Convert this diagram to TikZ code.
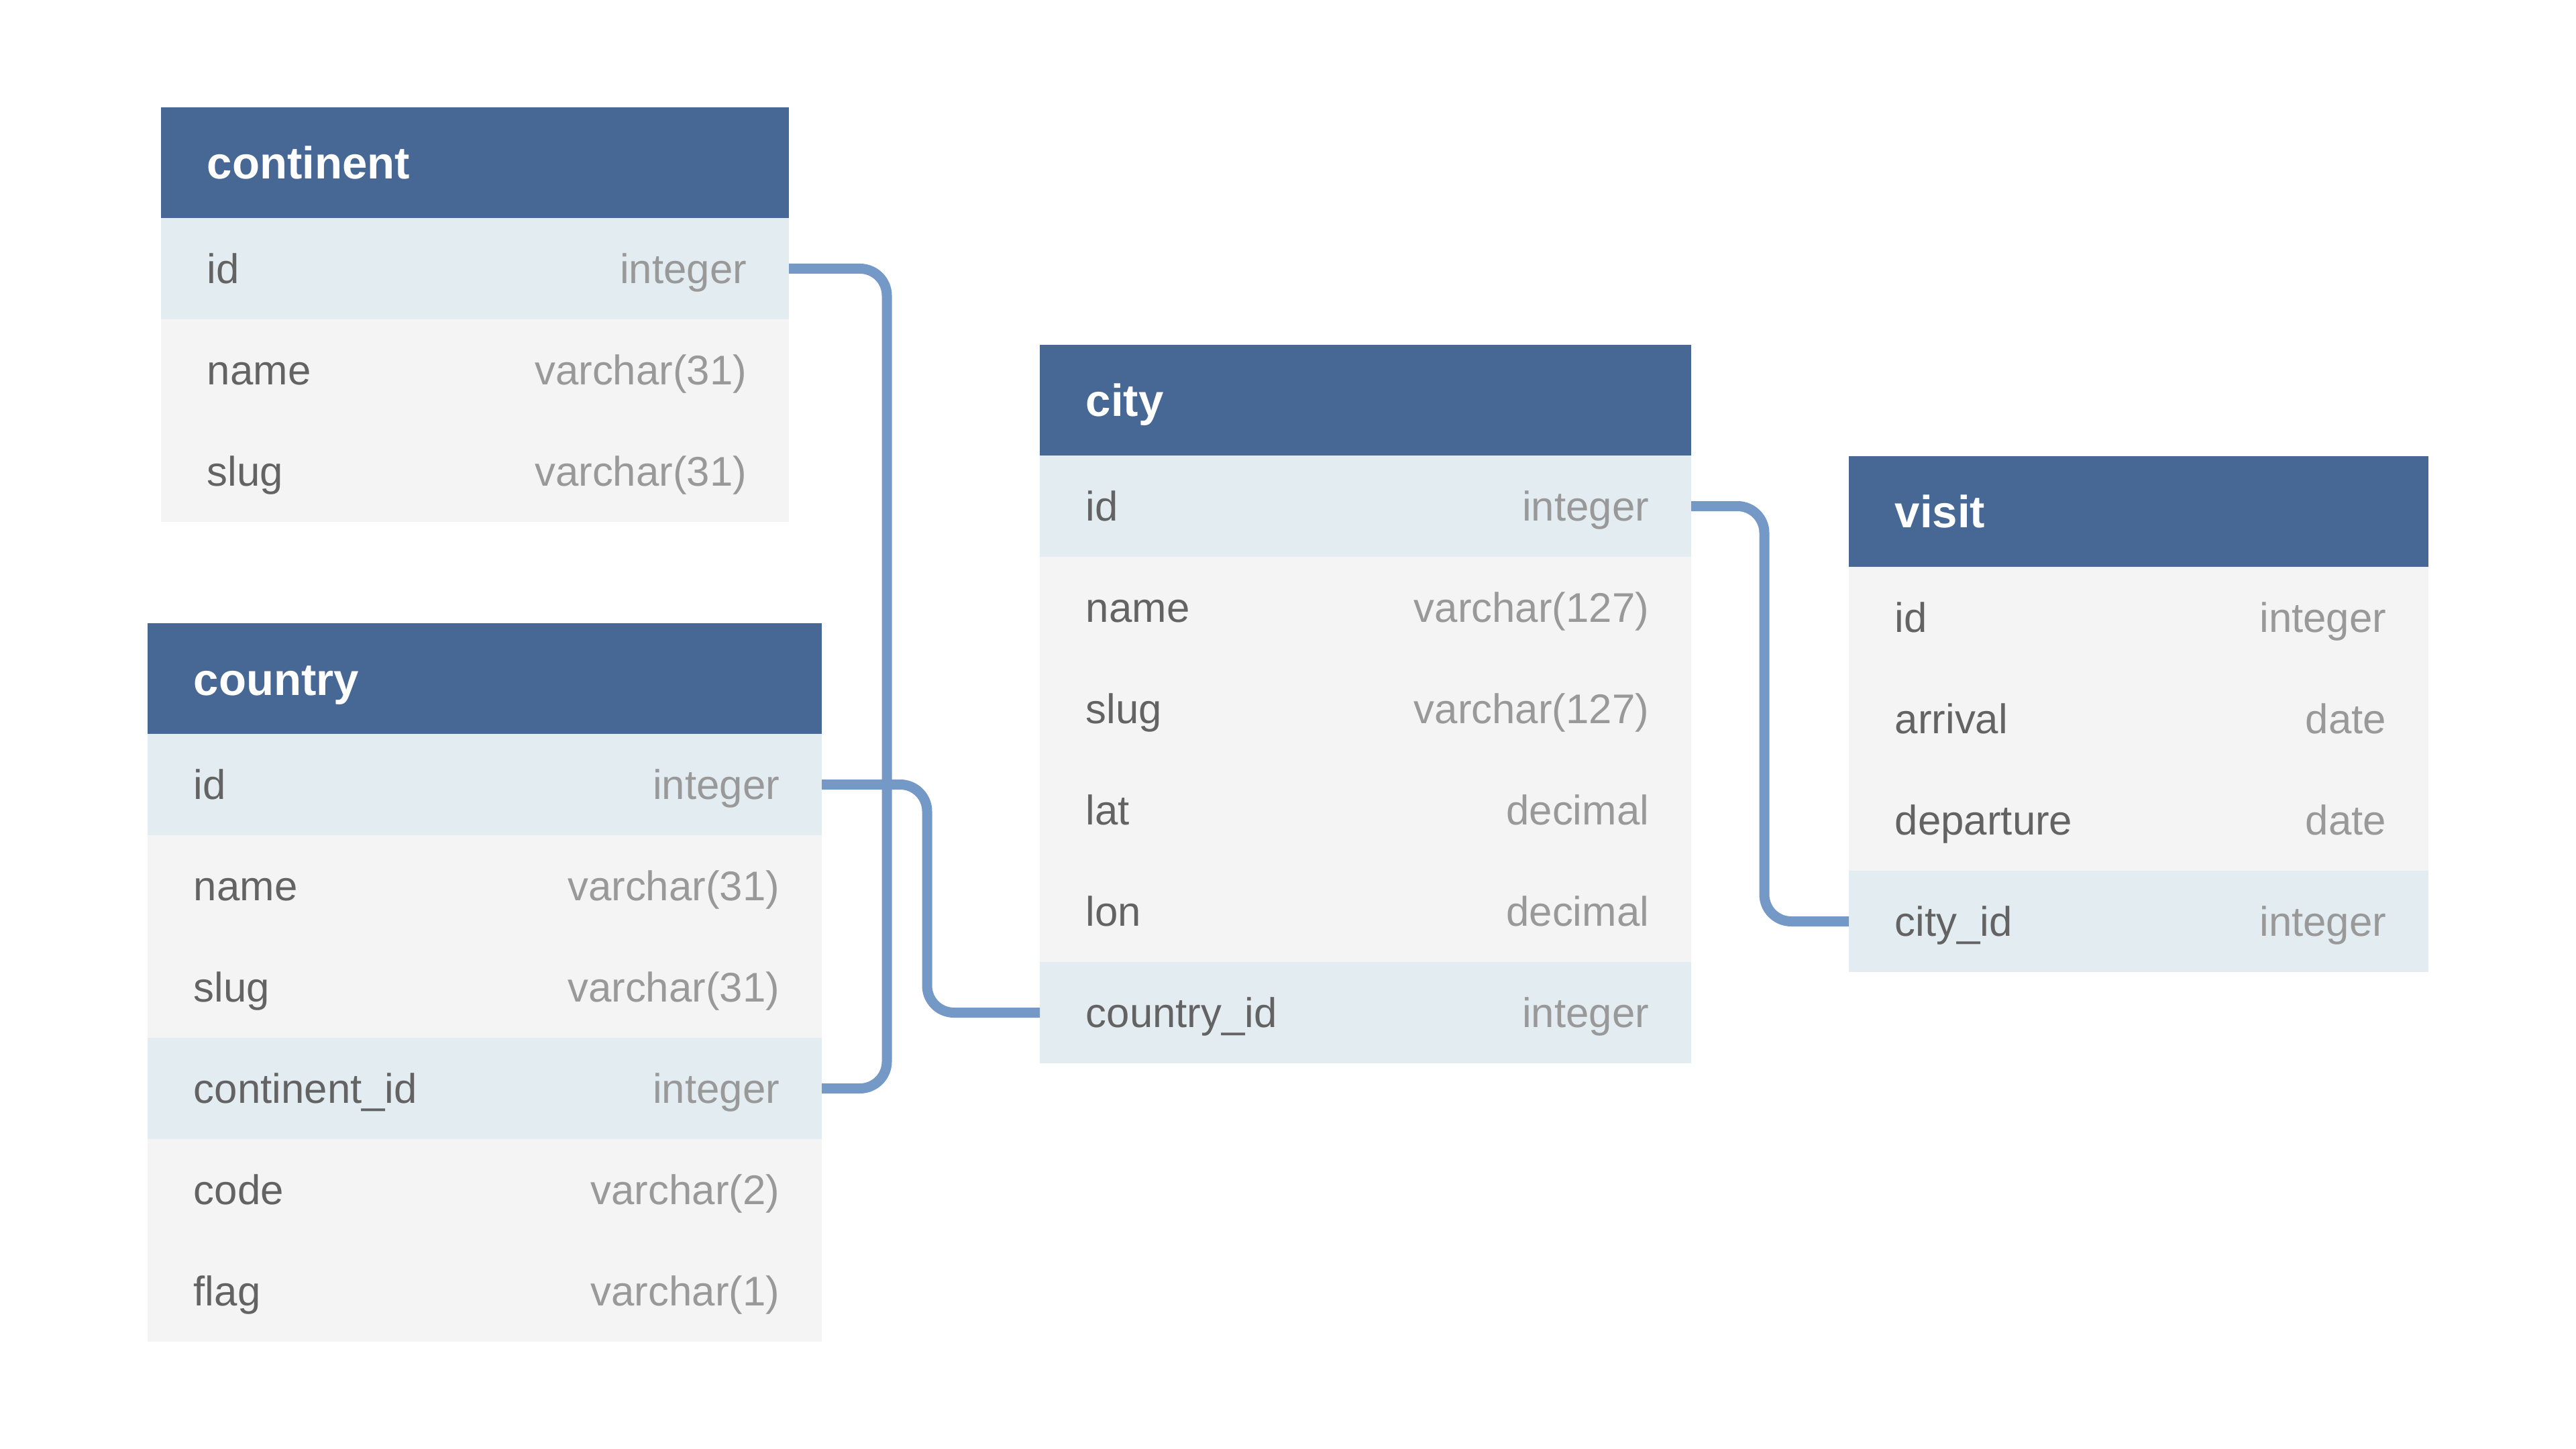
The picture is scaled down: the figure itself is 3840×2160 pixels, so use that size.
\documentclass[tikz,border=0pt]{standalone}
\usepackage{fontspec}
\setmainfont{Liberation Sans}
\usetikzlibrary{calc}
\definecolor{hdrblue}{HTML}{476894}
\definecolor{rowhl}{HTML}{E3ECF1}
\definecolor{rowpl}{HTML}{F4F4F4}
\definecolor{fieldgray}{HTML}{636363}
\definecolor{typegray}{HTML}{999999}
\definecolor{connblue}{HTML}{7499C7}
\tikzset{
  hdrbox/.style={fill=hdrblue, draw=none, inner sep=0pt, outer sep=0pt, minimum height=41.25pt},
  rowbox/.style={draw=none, inner sep=0pt, outer sep=0pt, minimum height=37.75pt},
  hdrtxt/.style={text=white, font=\bfseries\fontsize{16.8pt}{20pt}\selectfont, inner sep=0pt},
  fieldtxt/.style={text=fieldgray, font=\fontsize{15.45pt}{18pt}\selectfont, inner sep=0pt},
  typetxt/.style={text=typegray, font=\fontsize{15.45pt}{18pt}\selectfont, inner sep=0pt},
  conn/.style={draw=connblue, line width=3.75pt, rounded corners=10pt}
}
\newcommand\tblhead[5]{%
  \node[hdrbox, minimum width=#4*0.25pt, anchor=north west] (#1) at (#2,#3) {};
  \node[hdrtxt, anchor=base west] (#1-title) at ($(#1.north west)+(68,107)$) {#5};
}
\newcommand\tblrow[7]{%
  \node[rowbox, fill=#5, minimum width=#4*0.25pt, anchor=north west] (#1) at (#2,#3) {};
  \node[fieldtxt, anchor=base west] (#1-f) at ($(#1.west)+(68,22)$) {#6};
  \node[typetxt, anchor=base east] (#1-t) at ($(#1.east)+(-62,22)$) {#7};
}
\begin{document}
\begin{tikzpicture}[x=0.25pt, y=-0.25pt]
\useasboundingbox[fill=white] (0,0) rectangle (3840,2160);

% continent
\tblhead{cont}{240}{160}{936}{continent}
\tblrow{cont-id}{240}{325}{936}{rowhl}{id}{integer}
\tblrow{cont-name}{240}{476}{936}{rowpl}{name}{varchar(31)}
\tblrow{cont-slug}{240}{627}{936}{rowpl}{slug}{varchar(31)}

% country
\tblhead{ctry}{220}{929}{1005}{country}
\tblrow{ctry-id}{220}{1094}{1005}{rowhl}{id}{integer}
\tblrow{ctry-name}{220}{1245}{1005}{rowpl}{name}{varchar(31)}
\tblrow{ctry-slug}{220}{1396}{1005}{rowpl}{slug}{varchar(31)}
\tblrow{ctry-contid}{220}{1547}{1005}{rowhl}{continent\_id}{integer}
\tblrow{ctry-code}{220}{1698}{1005}{rowpl}{code}{varchar(2)}
\tblrow{ctry-flag}{220}{1849}{1005}{rowpl}{flag}{varchar(1)}

% city
\tblhead{city}{1550}{514}{971}{city}
\tblrow{city-id}{1550}{679}{971}{rowhl}{id}{integer}
\tblrow{city-name}{1550}{830}{971}{rowpl}{name}{varchar(127)}
\tblrow{city-slug}{1550}{981}{971}{rowpl}{slug}{varchar(127)}
\tblrow{city-lat}{1550}{1132}{971}{rowpl}{lat}{decimal}
\tblrow{city-lon}{1550}{1283}{971}{rowpl}{lon}{decimal}
\tblrow{city-ctryid}{1550}{1434}{971}{rowhl}{country\_id}{integer}

% visit
\tblhead{visit}{2756}{680}{864}{visit}
\tblrow{visit-id}{2756}{845}{864}{rowpl}{id}{integer}
\tblrow{visit-arr}{2756}{996}{864}{rowpl}{arrival}{date}
\tblrow{visit-dep}{2756}{1147}{864}{rowpl}{departure}{date}
\tblrow{visit-cityid}{2756}{1298}{864}{rowhl}{city\_id}{integer}

% connectors
\draw[conn] (cont-id.east) -- ++(146,0) |- (ctry-contid.east);
\draw[conn] (ctry-id.east) -- ++(157,0) |- (city-ctryid.west);
\draw[conn] (city-id.east) -- ++(109,0) |- (visit-cityid.west);
\end{tikzpicture}
\end{document}
